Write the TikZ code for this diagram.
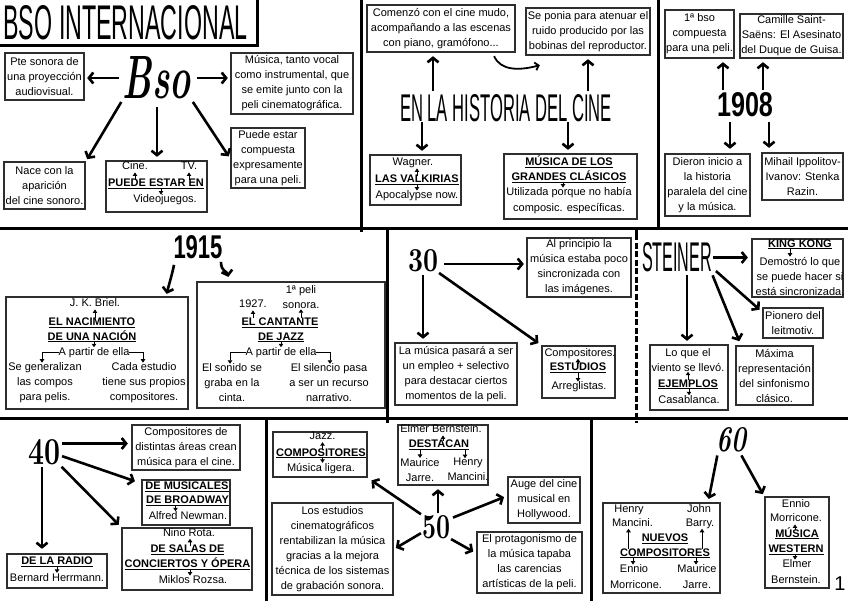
\documentclass[tikz,border=0pt]{standalone}
\usepackage{fontspec}
\usepackage{graphicx}
\setmainfont{Liberation Sans}
\newfontfamily\lmfont{Latin Modern Roman}
\usetikzlibrary{arrows.meta,calc}
\definecolor{bc}{HTML}{2E2E2E}
\newcommand\bodyf{\fontsize{11}{15}\selectfont}
\newcommand\headf{\fontsize{11}{15}\selectfont\bfseries}
\newcommand\mybx[6]{\node[bx, minimum width={#4-#2}, minimum height={#5-#3}] (#1) at ({(#2+#4)/2},{(#3+#5)/2}) {#6};}
\newcommand\hu[1]{\underline{#1}}
\begin{document}
\begin{tikzpicture}[x=1pt,y=-1pt,
  frame/.style={line width=3pt,black},
  bx/.style={draw=bc,line width=2.3pt,inner sep=0pt,align=center,font=\bodyf},
  ml/.style={inner sep=0pt,align=center,font=\bodyf},
  tl/.style={inner sep=0pt,font=\bodyf,text height=8pt,text depth=2.5pt},
  hl/.style={tl,font=\headf},
  ttl/.style={inner sep=0pt},
  arr/.style={line width=2.6pt,-{Straight Barb[length=4.5pt,width=11pt]}},
  sar/.style={line width=1pt,-{Triangle[length=3.5pt,width=4.5pt]},shorten <=-1pt},
]
\fill[white] (0,0) rectangle (848,600);
\useasboundingbox (0,0) rectangle (848,600);
% frame
\draw[frame] (-2,45) -- (257,45) -- (257,-2);
\draw[frame] (-2,228) -- (850,228);
\draw[frame] (-2,418) -- (850,418);
\draw[frame] (361,-2) -- (361,232);
\draw[frame] (658,-2) -- (658,228);
\draw[frame] (387,228) -- (387,423);
\draw[frame] (636,228) -- (636,234);
\draw[frame, dash pattern=on 6pt off 2.5pt] (636,234) -- (636,423);
\draw[frame] (266,418) -- (266,602);
\draw[frame] (591,418) -- (591,602);

% ===== Section 1
\node[ttl] (title) at (125.5,23) {\resizebox{244pt}{34pt}{BSO INTERNACIONAL}};
\node[ttl] (bso) at (157,78) {\resizebox{68pt}{42pt}{\lmfont\bfseries\itshape Bso}};
\mybx{a}{5}{53}{84}{100}{Pte sonora de\\una proyección\\audiovisual.}
\mybx{b}{231}{53}{353}{114}{Música, tanto vocal\\como instrumental, que\\se emite junto con la\\peli cinematográfica.}
\mybx{c}{4}{162}{85}{209}{Nace con la\\aparición\\del cine sonoro.}
\mybx{d}{106}{161}{207}{212}{}
\mybx{e}{231}{128}{305}{188}{Puede estar\\compuesta\\expresamente\\para una peli.}
\node[tl] (dcine) at (135,167) {Cine.};
\node[tl] (dtv) at (189,167) {TV.};
\node[hl] (dh) at (156,184) {\hu{PUEDE ESTAR EN}};
\node[tl] (dv) at (165,200) {Videojuegos.};
\draw[sar] (dh.north -| dcine) -- (dcine.south);
\draw[sar] (dh.north -| dtv) -- (dtv.south);
\draw[sar] ($(dh.south)+(5,0)$) -- ($(dh.south |- dv.north)+(5,0)$);
\draw[arr,shorten <=4pt,shorten >=2pt] (bso.west) -- (bso.west -| a.east);
\draw[arr,shorten <=6pt,shorten >=2pt] (bso.east) -- (bso.east -| b.west);
\draw[arr,shorten <=3pt,shorten >=2pt] (bso.south west) -- (c.north east);
\draw[arr,shorten <=8pt,shorten >=3pt] (bso.south) -- (bso.south |- d.north);
\draw[arr,shorten <=3pt,shorten >=2pt] (bso.south east) -- (e.west);

% ===== Section 2
\mybx{f}{367}{5}{515}{52}{Comenzó con el cine mudo,\\acompañando a las escenas\\con piano, gramófono...}
\mybx{g}{526}{8}{650}{55}{Se ponia para atenuar el\\ruido producido por las\\bobinas del reproductor.}
\node[ttl] (hist) at (506,108) {\resizebox{212pt}{27pt}{EN LA HISTORIA DEL CINE}};
\mybx{h}{370}{155}{461}{205}{}
\node[tl] (hw) at (413,163) {Wagner.};
\node[hl] (hh) at (417,180) {\hu{LAS VALKIRIAS}};
\node[tl] (ha) at (417,196) {Apocalypse now.};
\draw[sar] (hh.north) -- (hh.north |- hw.south);
\draw[sar] (hh.south) -- (hh.south |- ha.north);
\mybx{i}{504}{154}{637}{219}{}
\node[hl] (ih1) at (569,163) {\hu{MÚSICA DE LOS}};
\node[hl] (ih2) at (569,178) {\hu{GRANDES CLÁSICOS}};
\node[tl] (it1) at (569,193) {Utilizada porque no había};
\node[tl] (it2) at (569,209) {composic. específicas.};
\draw[sar] ($(ih2.south)+(-6,0)$) -- ($(ih2.south |- it1.north)+(-6,0)$);
\draw[arr,shorten <=3pt,shorten >=3pt] ($(hist.north)+(-73,0)$) -- ($(hist.north |- f.south)+(-73,0)$);
\draw[arr,shorten <=3pt,shorten >=3pt] ($(hist.north)+(82,0)$) -- ($(hist.north |- g.south)+(82,0)$);
\draw[arr,shorten >=3pt] ($(hist.south)+(-84,0)$) -- ($(hist.south |- h.north)+(-84,0)$);
\draw[arr,shorten >=3pt] ($(hist.south)+(62,0)$) -- ($(hist.south |- i.north)+(62,0)$);
\draw[line width=1.8pt,-{Straight Barb[length=3.5pt,width=8pt]}] ($(f.south east)+(-22,3)$) .. controls +(6,14) and +(-22,6) .. ($(g.south west)+(15,9)$);

% ===== Section 3
\mybx{j}{665}{10}{734}{58}{1ª bso\\compuesta\\para una peli.}
\mybx{k}{740}{14}{843}{58}{Camille Saint-\\Saëns: El Asesinato\\del Duque de Guisa.}
\mybx{l}{665}{154}{750}{216}{Dieron inicio a\\la historia\\paralela del cine\\y la música.}
\mybx{m}{762}{153}{843}{200}{Mihail Ippolitov-\\Ivanov: Stenka\\Razin.}
\node[ttl] (y08) at (745,105) {\resizebox{56pt}{24pt}{\bfseries 1908}};
\draw[arr,shorten <=3pt,shorten >=3pt] ($(y08.north)+(-22,0)$) -- ($(y08.north |- j.south)+(-22,0)$);
\draw[arr,shorten <=3pt,shorten >=3pt] ($(y08.north)+(18,0)$) -- ($(y08.north |- k.south)+(18,0)$);
\draw[arr,shorten <=5pt,shorten >=4pt] ($(y08.south)+(-15,0)$) -- ($(y08.south |- l.north)+(-15,0)$);
\draw[arr,shorten <=5pt,shorten >=4pt] ($(y08.south)+(24,0)$) -- ($(y08.south |- m.north)+(24,0)$);

% ===== Section 4
\node[ttl] (y15) at (198,247) {\resizebox{49pt}{23pt}{\bfseries 1915}};
\mybx{n}{6}{297}{188}{409}{}
\mybx{o}{197}{282}{385}{408}{}
\draw[arr,shorten >=2pt] ($(y15.south)+(-24,6)$) .. controls +(-2,10) and +(3,-12) .. ($(n.north east)+(-23,0)$);
\draw[arr,shorten >=2pt] ($(y15.south)+(23,3)$) .. controls +(0,10) and +(-2,-8) .. ($(o.north west)+(33,-2)$);
\node[tl] (nb) at (95,304) {J. K. Briel.};
\node[hl] (nh1) at (92,322.7) {\hu{EL NACIMIENTO}};
\node[hl] (nh2) at (92,337.3) {\hu{DE UNA NACIÓN}};
\node[tl] (np) at (94,352.7) {A partir de ella};
\node[ml] (nl) at (45,383) {Se generalizan\\las compos\\para pelis.};
\node[ml] (nr) at (144,383) {Cada estudio\\tiene sus propios\\compositores.};
\draw[sar] (nh1.north -| nb) -- (nb.south);
\draw[sar] (nh2.south -| np) -- (np.north);
\draw[sar] (np.west) -| ($(nl.north)+(-3,0)$);
\draw[sar] (np.east) -| ($(nr.north)+(-1,0)$);
\node[ml] (o1) at (301,297.5) {1ª peli\\sonora.};
\node[tl] (o27) at (253,305) {1927.};
\node[hl] (oh1) at (280,322.7) {\hu{EL CANTANTE}};
\node[hl] (oh2) at (281,337.3) {\hu{DE JAZZ}};
\node[tl] (op) at (281,352.7) {A partir de ella};
\node[ml] (ol) at (232,383) {El sonido se\\graba en la\\cinta.};
\node[ml] (orr) at (329,383) {El silencio pasa\\a ser un recurso\\narrativo.};
\draw[sar] (oh1.north -| o27) -- (o27.south);
\draw[sar] (oh1.north -| o1) -- (o1.south);
\draw[sar] (oh2.south -| op) -- (op.north);
\draw[sar] (op.west) -| ($(ol.north)+(-2,0)$);
\draw[sar] (op.east) -| ($(orr.north)+(1,0)$);

% ===== Section 5
\node[ttl] (n30) at (423,261) {\resizebox{30pt}{22pt}{\lmfont\bfseries 30}};
\mybx{p}{527}{238}{631}{297}{Al principio la\\música estaba poco\\sincronizada con\\las imágenes.}
\mybx{q}{395}{343}{517}{405}{La música pasará a ser\\un empleo + selectivo\\para destacar ciertos\\momentos de la peli.}
\mybx{r}{542}{346}{615}{398}{}
\node[tl] (r1) at (580,353.3) {Compositores.};
\node[hl] (rh) at (578,368) {\hu{ESTUDIOS}};
\node[tl] (r2) at (579,387) {Arreglistas.};
\draw[sar] (rh.north) -- (rh.north |- r1.south);
\draw[sar] (rh.south) -- (rh.south |- r2.north);
\draw[arr,shorten <=6pt,shorten >=2pt] ($(n30.east)+(0,3)$) -- ($(n30.east -| p.west)+(0,3)$);
\draw[arr,shorten <=3pt,shorten >=3pt] (n30.south) -- (n30.south |- q.north);
\draw[arr,shorten <=1pt,shorten >=3pt] (n30.south east) -- (r.north west);

% ===== Section 6
\node[ttl] (st) at (677,257.5) {\resizebox{70pt}{29pt}{STEINER}};
\mybx{s}{752}{239}{843}{297}{}
\node[hl] (sh) at (800,244.3) {\hu{KING KONG}};
\node[ml] (stx) at (800,276) {Demostró lo que\\se puede hacer si\\está sincronizada.};
\draw[sar] ($(sh.south)+(-10,0)$) -- ($(sh.south |- stx.north)+(-10,0)$);
\mybx{t}{763}{308}{823}{338}{Pionero del\\leitmotiv.}
\mybx{u}{650}{345}{728}{410}{}
\node[ml] (u1) at (688,360) {Lo que el\\viento se llevó.};
\node[hl] (uh) at (688,384.3) {\hu{EJEMPLOS}};
\node[tl] (u2) at (689,400.7) {Casablanca.};
\draw[sar] (uh.north -| u1) -- (u1.south);
\draw[sar] (uh.south -| u2) -- (u2.north);
\mybx{v}{736}{346}{813}{405}{Máxima\\representación\\del sinfonismo\\clásico.}
\draw[arr,shorten <=1pt,shorten >=3pt] (st.east) -- (st.east -| s.west);
\draw[arr,shorten <=1pt,shorten >=3pt] ($(st.south east)+(3,-2)$) -- (t.160);
\draw[arr,shorten <=1pt,shorten >=4pt] ($(st.south east)+(0,2)$) -- ($(v.north west)+(6,0)$);
\draw[arr,shorten <=3pt,shorten >=3pt] ($(st.south)+(10,0)$) -- ($(st.south |- u.north)+(10,0)$);

% ===== Section 7
\node[ttl] (n40) at (44,452.5) {\resizebox{32pt}{25pt}{\lmfont\bfseries 40}};
\mybx{w}{132}{425}{240}{470}{Compositores de\\distintas áreas crean\\música para el cine.}
\mybx{xb}{142}{480}{230}{525}{}
\node[hl] (xh1) at (187,486.7) {\hu{DE MUSICALES}};
\node[hl] (xh2) at (187.5,501) {\hu{DE BROADWAY}};
\node[tl] (x3) at (188,516.7) {Alfred Newman.};
\draw[sar] ($(xh2.south)+(-12,0)$) -- ($(xh2.south |- x3.north)+(-12,0)$);
\mybx{yb}{7}{554}{107}{588}{}
\node[hl] (yh) at (57,561.7) {\hu{DE LA RADIO}};
\node[tl] (y2) at (57,578.3) {Bernard Herrmann.};
\draw[sar] (yh.south) -- (yh.south |- y2.north);
\mybx{zb}{122}{528}{252}{590}{}
\node[tl] (z1) at (189,533.3) {Nino Rota.};
\node[hl] (zh1) at (187.5,550) {\hu{DE SALAS DE}};
\node[hl] (zh2) at (187.5,565) {\hu{CONCIERTOS Y ÓPERA}};
\node[tl] (z2) at (193,581) {Miklos Rozsa.};
\draw[sar] ($(zh1.north)+(2.5,0)$) -- ($(zh1.north |- z1.south)+(2.5,0)$);
\draw[sar] ($(zh2.south)+(2.5,0)$) -- ($(zh2.south |- z2.north)+(2.5,0)$);
\draw[arr,shorten <=2pt,shorten >=3pt] ($(n40.east)+(0,-9)$) -- ($(n40.east -| w.west)+(0,-9)$);
\draw[arr,shorten <=2pt,shorten >=2pt] ($(n40.east)+(0,3)$) -- ($(xb.north west)+(-4,3)$);
\draw[arr,shorten <=2pt,shorten >=3pt] (n40.south east) -- (zb.north west);
\draw[arr,shorten <=2pt,shorten >=4pt] ($(n40.south)+(-2,0)$) -- ($(n40.south |- yb.north)+(-2,0)$);

% ===== Section 8
\node[ttl] (n50) at (436,526.7) {\resizebox{28pt}{23pt}{\lmfont\bfseries 50}};
\mybx{aa}{273}{432}{367}{477}{}
\node[tl] (a1) at (322.5,436.7) {Jazz.};
\node[hl] (ah) at (321,453.3) {\hu{COMPOSITORES}};
\node[tl] (a2) at (321,468.3) {Música ligera.};
\draw[sar] ($(ah.north)+(1.5,0)$) -- ($(ah.north |- a1.south)+(1.5,0)$);
\draw[sar] ($(ah.south)+(1.5,0)$) -- ($(ah.south |- a2.north)+(1.5,0)$);
\mybx{ab}{398}{425}{488}{485}{}
\node[tl] (b1) at (441,430) {Elmer Bernstein.};
\node[hl] (bh) at (439,445) {\hu{DESTACAN}};
\node[ml] (bl) at (420,469.7) {Maurice\\Jarre.};
\node[ml] (br) at (468,469.7) {Henry\\Mancini.};
\draw[sar] ($(bh.north)+(4,0)$) -- ($(bh.north |- b1.south)+(4,0)$);
\draw[sar] (bh.south -| bl) -- (bl.north);
\draw[sar] ($(bh.south -| br)+(-3,0)$) -- ($(br.north)+(-3,0)$);
\mybx{ac}{508}{477}{580}{523}{Auge del cine\\musical en\\Hollywood.}
\mybx{ad}{272}{503}{393}{595}{Los estudios\\cinematográficos\\rentabilizan la música\\gracias a la mejora\\técnica de los sistemas\\de grabación sonora.}
\mybx{ae}{477}{532}{582}{593}{El protagonismo de\\la música tapaba\\las carencias\\artísticas de la peli.}
\draw[arr,shorten <=1pt,shorten >=4pt] (n50.north west) -- (aa.south east);
\draw[arr,shorten <=2pt,shorten >=3pt] ($(n50.north)+(2,0)$) -- ($(n50.north |- ab.south)+(2,0)$);
\draw[arr,shorten <=3pt,shorten >=3pt] ($(n50.east)+(0,-8)$) -- ($(ac.west)+(0,-4)$);
\draw[arr,shorten <=1pt,shorten >=2pt] ($(n50.west)+(0,6)$) -- (ad.east);
\draw[arr,shorten <=1pt,shorten >=3pt] (n50.south east) -- (ae.170);

% ===== Section 9
\node[ttl] (n60) at (731.7,440) {\resizebox{30pt}{24pt}{\lmfont\bfseries\itshape 60}};
\mybx{af}{603}{503}{720}{593}{}
\node[tl] (f1a) at (629,510) {Henry};
\node[tl] (f1b) at (632.5,523.3) {Mancini.};
\node[tl] (f2a) at (699,510) {John};
\node[tl] (f2b) at (700,523.3) {Barry.};
\node[hl] (fh1) at (665,539) {\hu{NUEVOS}};
\node[hl] (fh2) at (665,553.3) {\hu{COMPOSITORES}};
\node[tl] (f3a) at (634,570) {Ennio};
\node[tl] (f3b) at (636,585.7) {Morricone.};
\node[tl] (f4a) at (697,570) {Maurice};
\node[tl] (f4b) at (697,585.7) {Jarre.};
\draw[sar] ($(f1b.south |- fh2.north)+(-4,0)$) -- ($(f1b.south)+(-4,0)$);
\draw[sar] ($(f2b.south |- fh2.north)+(2,0)$) -- ($(f2b.south)+(2,0)$);
\draw[sar] ($(fh2.south -| f3a)+(-1,0)$) -- ($(f3a.north)+(-1,0)$);
\draw[sar] ($(fh2.south -| f4a)+(-1,0)$) -- ($(f4a.north)+(-1,0)$);
\mybx{ag}{765}{497}{829}{588}{}
\node[tl] (g1) at (796,504.3) {Ennio};
\node[tl] (g2) at (796,519) {Morricone.};
\node[hl] (gh1) at (797,534.3) {\hu{MÚSICA}};
\node[hl] (gh2) at (796,550) {\hu{WESTERN}};
\node[tl] (g3) at (797,565) {Elmer};
\node[tl] (g4) at (796,580.7) {Bernstein.};
\draw[sar] ($(gh1.north)+(-2,0)$) -- ($(gh1.north |- g2.south)+(-2,0)$);
\draw[sar] ($(gh2.south)+(-1,0)$) -- ($(gh2.south |- g3.north)+(-1,0)$);
\draw[arr,shorten <=1pt,shorten >=3pt] ($(n60.south west)+(1,2)$) -- ($(af.north east)+(-13,0)$);
\draw[arr,shorten <=1pt,shorten >=2pt] ($(n60.south east)+(-6,2)$) -- (ag.north west);
\node[font=\fontsize{20}{20}\selectfont, inner sep=0pt] (pg) at (840,584) {1};
\end{tikzpicture}
\end{document}
